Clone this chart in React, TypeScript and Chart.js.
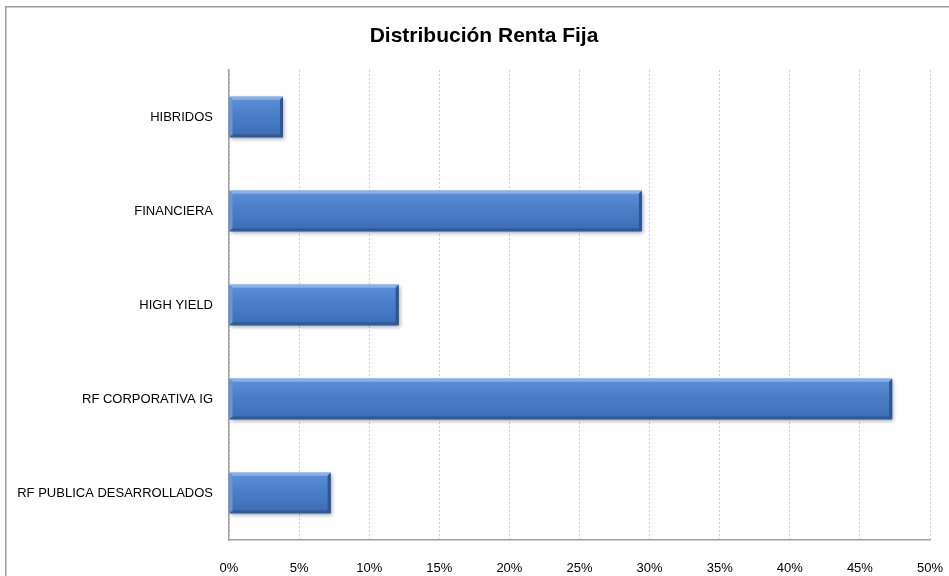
import React, { useEffect, useRef } from "react";
import { Chart, registerables } from "chart.js";

Chart.register(...registerables);

const chartTitle = "Distribución Renta Fija";
const categories = [
  "HIBRIDOS",
  "FINANCIERA",
  "HIGH YIELD",
  "RF CORPORATIVA IG",
  "RF PUBLICA DESARROLLADOS",
];
const values = [3.85, 29.45, 12.1, 47.3, 7.25];
const xMin = 0;
const xMax = 50;
const xStep = 5;

const FONT = "'Liberation Sans', Arial, sans-serif";

const framePlugin = {
  id: "frame",
  beforeDraw(chart: any) {
    const ctx = chart.ctx;
    ctx.save();
    ctx.fillStyle = "#ffffff";
    ctx.fillRect(0, 0, chart.width, chart.height);
    ctx.strokeStyle = "#9a9a9a";
    ctx.lineWidth = 1.5;
    ctx.beginPath();
    ctx.moveTo(5.75, chart.height + 2);
    ctx.lineTo(5.75, 6.75);
    ctx.lineTo(chart.width + 2, 6.75);
    ctx.stroke();
    // chart title, centred on the frame
    ctx.fillStyle = "#000000";
    ctx.font = "bold 21px " + FONT;
    ctx.textAlign = "center";
    ctx.textBaseline = "middle";
    ctx.fillText(chartTitle, (chart.width + 19) / 2, 36.5);
    ctx.restore();
  },
};

const bevelPlugin = {
  id: "bevel",
  afterDatasetsDraw(chart: any) {
    const ctx = chart.ctx;
    const meta = chart.getDatasetMeta(0);
    meta.data.forEach((bar: any) => {
      const { x, y, base, height } = bar.getProps(["x", "y", "base", "height"], true);
      const left = Math.min(x, base);
      const right = Math.max(x, base);
      const top = y - height / 2;
      const bottom = y + height / 2;
      const w = right - left;
      const h = bottom - top;
      ctx.save();
      ctx.shadowColor = "rgba(0,0,0,0.35)";
      ctx.shadowBlur = 4;
      ctx.shadowOffsetY = 2;
      ctx.shadowOffsetX = 1;
      const g = ctx.createLinearGradient(0, top, 0, bottom);
      g.addColorStop(0, "#5c90da");
      g.addColorStop(0.45, "#4a7fc8");
      g.addColorStop(1, "#3b6db4");
      ctx.fillStyle = g;
      ctx.fillRect(left, top, w, h);
      ctx.restore();
      ctx.save();
      const b = 3;
      ctx.fillStyle = "#86b1ea";
      ctx.beginPath();
      ctx.moveTo(left, top);
      ctx.lineTo(right, top);
      ctx.lineTo(right - b, top + b);
      ctx.lineTo(left + b, top + b);
      ctx.closePath();
      ctx.fill();
      ctx.fillStyle = "#2f5b98";
      ctx.beginPath();
      ctx.moveTo(left, bottom);
      ctx.lineTo(right, bottom);
      ctx.lineTo(right - b, bottom - b);
      ctx.lineTo(left + b, bottom - b);
      ctx.closePath();
      ctx.fill();
      ctx.fillStyle = "#2c5690";
      ctx.beginPath();
      ctx.moveTo(right, top);
      ctx.lineTo(right, bottom);
      ctx.lineTo(right - b, bottom - b);
      ctx.lineTo(right - b, top + b);
      ctx.closePath();
      ctx.fill();
      ctx.fillStyle = "#6697dd";
      ctx.beginPath();
      ctx.moveTo(left, top);
      ctx.lineTo(left, bottom);
      ctx.lineTo(left + b, bottom - b);
      ctx.lineTo(left + b, top + b);
      ctx.closePath();
      ctx.fill();
      ctx.restore();
    });
  },
};

export default function App() {
  const ref = useRef<HTMLCanvasElement | null>(null);

  useEffect(() => {
    if (!ref.current) return;
    const chart = new Chart(ref.current, {
      type: "bar",
      data: {
        labels: categories,
        datasets: [
          {
            data: values,
            backgroundColor: "#4a7fc8",
            borderWidth: 0,
            categoryPercentage: 1,
            barPercentage: 0.43,
          },
        ],
      },
      options: {
        indexAxis: "y",
        responsive: false,
        animation: false,
        layout: { padding: { left: 0, right: 19, top: 70, bottom: 0 } },
        plugins: {
          legend: { display: false },
          tooltip: { enabled: false },
          title: { display: false },
        },
        scales: {
          x: {
            min: xMin,
            max: xMax,
            ticks: {
              stepSize: xStep,
              color: "#000000",
              font: { family: FONT, size: 13 },
              padding: 21,
              maxRotation: 0,
              callback: (v: any) => v + "%",
            },
            grid: {
              color: "#cfcfcf",
              lineWidth: 1,
              drawTicks: false,
            },
            border: { display: true, color: "#a0a0a0", width: 1.5, dash: [2, 2] },
            afterFit: (scale: any) => {
              scale.height = 36;
              scale.paddingLeft = 0;
              scale.paddingRight = 0;
            },
          },
          y: {
            ticks: {
              color: "#000000",
              font: { family: FONT, size: 13 },
              padding: 16,
            },
            grid: { display: false, drawTicks: false },
            border: { display: true, color: "#a0a0a0", width: 1.5 },
            afterFit: (scale: any) => {
              scale.width = 229;
              scale.paddingTop = 0;
              scale.paddingBottom = 0;
            },
          },
        },
      },
      plugins: [framePlugin, bevelPlugin],
    } as any);
    return () => chart.destroy();
  }, []);

  return (
    <div style={{ position: "absolute", left: 0, top: 0, width: 949, height: 576 }}>
      <canvas ref={ref} width={949} height={576} style={{ display: "block" }} />
    </div>
  );
}
